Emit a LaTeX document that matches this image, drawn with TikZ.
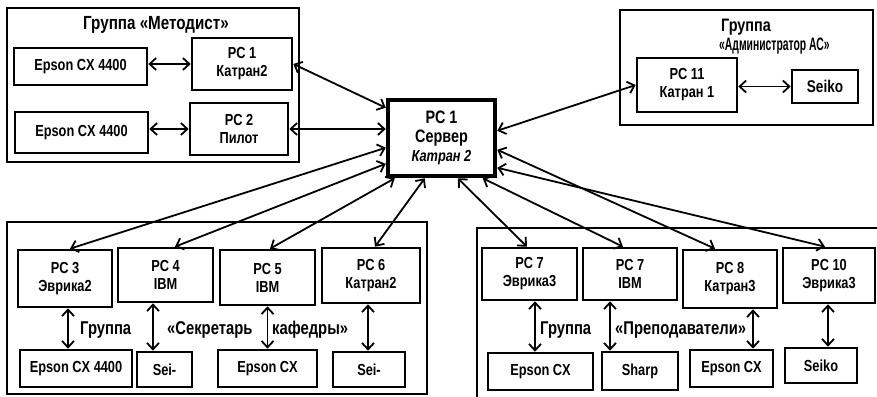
\documentclass[tikz,border=0pt]{standalone}
\usepackage{fontspec}
\setmainfont{Liberation Sans}[FakeStretch=0.8]
\usetikzlibrary{arrows.meta}
\begin{document}
\begin{tikzpicture}[x=1pt,y=-1pt,
  box/.style={draw,line width=2.6pt,inner sep=0pt,align=center,font=\fontsize{16}{18}\selectfont\bfseries},
  grp/.style={draw,line width=1.4pt},
  lbl/.style={inner sep=0pt,anchor=west,font=\fontsize{18.5}{20}\selectfont\bfseries},
  dbl/.style={line width=1.8pt,{Straight Barb[length=6.5pt,width=12pt]}-{Straight Barb[length=6.5pt,width=12pt]}}]
\useasboundingbox (0,0) rectangle (877,396);
% group boxes
\draw[grp] (7,8) rectangle (299,162);
\draw[grp] (620,10) rectangle (873,125);
\draw[grp] (7,222) rectangle (427,394);
\draw[grp] (890,228) -- (477,228) -- (477,400);
% titles
\node[lbl,anchor=center,font=\fontsize{19}{20}\selectfont\bfseries] (t1) at (156,25) {Группа «Методист»};
\node[lbl,align=left,font=\fontsize{18}{19}\selectfont\bfseries] (t2) at (719,37) {\hspace*{2pt}Группа\\\scalebox{0.72}[1]{«Администратор АС»}};
% top-left
\node[box,minimum width=133pt,minimum height=37pt] (e1) at (80.5,66.5) {Epson CX 4400};
\node[box,minimum width=100pt,minimum height=52pt] (pc1) at (242,64) {PC 1\\Катран2};
\node[box,minimum width=133pt,minimum height=41pt] (e2) at (81.5,132.5) {Epson CX 4400};
\node[box,minimum width=98pt,minimum height=52pt] (pc2) at (239,129) {PC 2\\Пилот};
% server
\node[draw,line width=4.5pt,inner sep=0pt,align=center,minimum width=107pt,minimum height=76pt,
  font=\fontsize{18}{19}\selectfont\bfseries] (srv) at (441.5,138)
  {PC 1\\Сервер\\{\fontsize{16}{18}\selectfont\itshape Катран 2}};
% right
\node[box,minimum width=100pt,minimum height=54pt] (pc11) at (687,85) {PC 11\\Катран 1};
\node[box,minimum width=66pt,minimum height=33pt,font=\fontsize{17}{18}\selectfont\bfseries] (sk) at (825,86.5) {Seiko};
% bottom-left
\node[box,minimum width=94pt,minimum height=57pt] (pc3) at (65,278.5) {PC 3\\Эврика2};
\node[box,minimum width=95pt,minimum height=54pt] (pc4) at (165.5,275) {PC 4\\IBM};
\node[box,minimum width=95pt,minimum height=55pt] (pc5) at (267.5,277.5) {PC 5\\IBM};
\node[box,minimum width=98pt,minimum height=55pt] (pc6) at (371,275.5) {PC 6\\Катран2};
\node[box,minimum width=112pt,minimum height=37pt] (b1) at (76,368.5) {Epson CX 4400};
\node[box,minimum width=55pt,minimum height=35pt] (b2) at (164.5,369.5) {Sei-};
\node[box,minimum width=99pt,minimum height=37pt] (b3) at (267.5,368.5) {Epson CX};
\node[box,minimum width=72pt,minimum height=35pt] (b4) at (369,369.5) {Sei-};
% bottom-right
\node[box,minimum width=95pt,minimum height=52pt] (pc7a) at (529.5,274) {PC 7\\Эврика3};
\node[box,minimum width=94pt,minimum height=52pt] (pc7b) at (630,274) {PC 7\\IBM};
\node[box,minimum width=94pt,minimum height=58pt] (pc8) at (730,279) {PC 8\\Катран3};
\node[box,minimum width=92pt,minimum height=55pt] (pc10) at (829,275.5) {PC 10\\Эврика3};
\node[box,minimum width=105pt,minimum height=37pt] (b5) at (540.5,371.5) {Epson CX};
\node[box,minimum width=76pt,minimum height=38pt] (b6) at (640,371) {Sharp};
\node[box,minimum width=83pt,minimum height=37pt] (b7) at (731.5,368.5) {Epson CX};
\node[box,minimum width=72pt,minimum height=35pt] (b8) at (821,365.5) {Seiko};
% labels
\node[lbl] (l1) at (80,330) {Группа};
\node[lbl] (l2) at (167,330) {«Секретарь};
\node[lbl] (l3) at (272,330) {кафедры»};
\node[lbl] (l4) at (540,330) {Группа};
\node[lbl] (l5) at (615,330) {«Преподаватели»};
% local arrows
\draw[dbl] (e1.east |- pc1.west) -- (pc1.west);
\draw[dbl] (e2.east |- pc2.west) -- (pc2.west);
\draw[dbl] (pc11.east |- sk.west) -- (sk.west);
\draw[dbl] ([xshift=3pt]pc3.south) -- ([xshift=3pt]pc3.south |- b1.north);
\draw[dbl] ([xshift=-12.5pt]pc4.south) -- ([xshift=-12.5pt]pc4.south |- b2.north);
\draw[dbl] (pc5.south) -- (pc5.south |- b3.north);
\draw[dbl] ([xshift=-3pt]pc6.south) -- ([xshift=-3pt]pc6.south |- b4.north);
\draw[dbl] ([xshift=5.5pt]pc7a.south) -- ([xshift=5.5pt]pc7a.south |- b5.north);
\draw[dbl] ([xshift=-20pt]pc7b.south) -- ([xshift=-20pt]pc7b.south |- b6.north);
\draw[dbl] ([xshift=23pt]pc8.south) -- ([xshift=23pt]pc8.south |- b7.north);
\draw[dbl] ([xshift=-1pt]pc10.south) -- ([xshift=-1pt]pc10.south |- b8.north);
% server connectors
\draw[dbl] ([yshift=-10pt]srv.north west) -- (pc1.east);
\draw[dbl] (srv.west |- pc2.east) -- (pc2.east);
\draw[dbl] ([yshift=-50pt]srv.north west) -- ([xshift=5pt]pc3.north);
\draw[dbl] ([yshift=-66pt]srv.north west) -- ([xshift=9.5pt]pc4.north);
\draw[dbl] ([xshift=9pt]srv.south west) -- ([xshift=2.5pt]pc5.north);
\draw[dbl] ([xshift=39pt]srv.south west) -- ([xshift=4pt]pc6.north);
\draw[dbl] ([xshift=72pt]srv.south west) -- ([xshift=-2.5pt]pc7a.north);
\draw[dbl] ([xshift=97pt]srv.south west) -- ([xshift=-7pt]pc7b.north);
\draw[dbl] ([yshift=-52pt]srv.north east) -- ([xshift=-15pt]pc8.north);
\draw[dbl] ([yshift=-70pt]srv.north east) -- ([xshift=-4pt]pc10.north);
\draw[dbl] ([yshift=-33pt]srv.north east) -- (pc11.west);
\end{tikzpicture}
\end{document}
